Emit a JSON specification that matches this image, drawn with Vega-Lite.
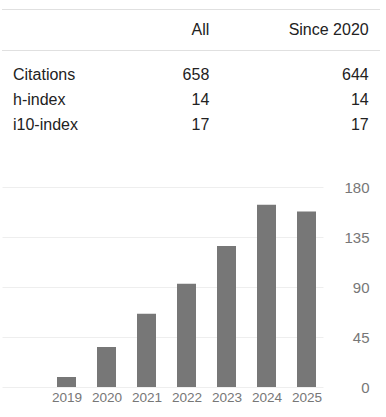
{
  "$schema": "https://vega.github.io/schema/vega-lite/v6.json",
  "padding": {"left": 1, "top": 0, "right": 0, "bottom": 0},
  "autosize": {"type": "pad"},
  "bounds": "flush",
  "spacing": 0,
  "config": {"view": {"stroke": null}, "font": "Liberation Sans"},
  "datasets": {
    "stats": [
      {"metric": "Citations", "period": "All", "value": "658"},
      {"metric": "Citations", "period": "Since 2020", "value": "644"},
      {"metric": "h-index", "period": "All", "value": "14"},
      {"metric": "h-index", "period": "Since 2020", "value": "14"},
      {"metric": "i10-index", "period": "All", "value": "17"},
      {"metric": "i10-index", "period": "Since 2020", "value": "17"}
    ],
    "headers": [
      {"row": "header", "period": "All"},
      {"row": "header", "period": "Since 2020"}
    ],
    "lines": [
      {"row": "top"},
      {"row": "mid"}
    ],
    "years": [
      {"year": 2019, "citations": 9},
      {"year": 2020, "citations": 36},
      {"year": 2021, "citations": 66},
      {"year": 2022, "citations": 93},
      {"year": 2023, "citations": 127},
      {"year": 2024, "citations": 164},
      {"year": 2025, "citations": 158}
    ]
  },
  "vconcat": [
    {
      "width": 378,
      "height": 187,
      "layer": [
        {
          "data": {"name": "lines"},
          "mark": {"type": "rule", "color": "#e0e0e0", "strokeWidth": 1},
          "encoding": {
            "y": {"field": "row", "type": "nominal", "scale": {"type": "point", "domain": ["top", "header", "mid"], "range": [9.5, 50.5], "padding": 0}, "axis": null}
          }
        },
        {
          "data": {"name": "headers"},
          "mark": {"type": "text", "align": "right", "baseline": "middle", "fontSize": 16, "color": "#222222"},
          "encoding": {
            "y": {"field": "row", "type": "nominal", "scale": {"type": "point", "domain": ["top", "header", "mid"], "range": [9.5, 50.5], "padding": 0}, "axis": null},
            "x": {"field": "period", "type": "nominal", "scale": {"type": "point", "domain": ["All", "Since 2020"], "range": [207.3, 366.7], "padding": 0}, "axis": null},
            "text": {"field": "period"}
          }
        },
        {
          "data": {"name": "stats"},
          "transform": [{"filter": "datum.period === 'All'"}],
          "mark": {"type": "text", "align": "left", "baseline": "alphabetic", "fontSize": 16, "color": "#222222"},
          "encoding": {
            "y": {"field": "metric", "type": "nominal", "scale": {"type": "point", "domain": ["Citations", "h-index", "i10-index"], "range": [80, 130], "padding": 0}, "axis": null},
            "x": {"datum": "label", "type": "nominal", "scale": {"type": "point", "domain": ["label"], "range": [0, 22], "padding": 0}, "axis": null},
            "text": {"field": "metric"}
          }
        },
        {
          "data": {"name": "stats"},
          "mark": {"type": "text", "align": "right", "baseline": "alphabetic", "fontSize": 16, "color": "#222222"},
          "encoding": {
            "y": {"field": "metric", "type": "nominal", "scale": {"type": "point", "domain": ["Citations", "h-index", "i10-index"], "range": [80, 130], "padding": 0}, "axis": null},
            "x": {"field": "period", "type": "nominal", "scale": {"type": "point", "domain": ["All", "Since 2020"], "range": [207.3, 366.7], "padding": 0}, "axis": null},
            "text": {"field": "value"}
          }
        }
      ],
      "resolve": {"scale": {"x": "independent", "y": "independent"}}
    },
    {
      "width": 321,
      "height": 200,
      "data": {"name": "years"},
      "mark": {"type": "bar", "color": "#777777", "width": 19},
      "encoding": {
        "x": {
          "field": "year", "type": "quantitative",
          "scale": {"domain": [2017.3875, 2025.4125], "nice": false, "zero": false, "padding": 0},
          "axis": {"values": [2019, 2020, 2021, 2022, 2023, 2024, 2025], "format": "d", "grid": false, "domain": false, "ticks": false, "tickSize": 0, "labelPadding": 3, "labelFontSize": 13.6, "labelColor": "#777777", "title": null, "labelFlush": false, "labelOverlap": false}
        },
        "y": {
          "field": "citations", "type": "quantitative",
          "scale": {"domain": [0, 180], "nice": false},
          "axis": {"orient": "right", "values": [0, 45, 90, 135, 180], "grid": true, "gridColor": "#eeeeee", "domain": false, "ticks": false, "tickSize": 0, "labelAlign": "right", "labelPadding": 46, "labelFontSize": 15, "labelColor": "#777777", "title": null, "labelFlush": false, "labelOverlap": false}
        }
      }
    }
  ]
}
